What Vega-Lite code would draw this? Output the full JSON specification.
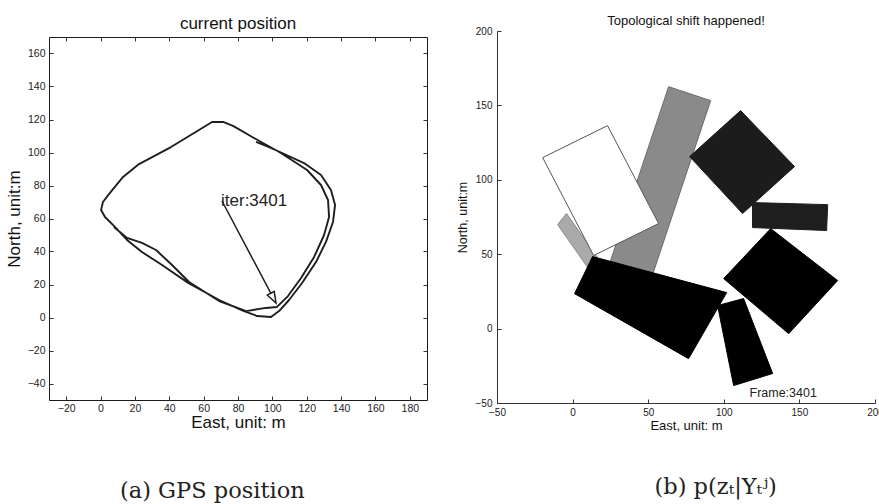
{
  "$schema": "https://vega.github.io/schema/vega-lite/v6.json",
  "background": "white",
  "padding": {"left": 4, "top": 12, "right": 0, "bottom": 0},
  "spacing": 28,
  "hconcat": [
    {
      "title": {"text": "(a) GPS position", "orient": "bottom", "anchor": "middle", "frame": "bounds", "font": "DejaVu Serif", "fontSize": 22.5, "fontWeight": "normal", "color": "#222", "offset": 49, "dx": -4},
      "spacing": 0,
      "vconcat": [
        {"width": 378, "height": 2, "data": {"values": []}, "mark": "point"},
        {
          "width": 378,
          "height": 363,
          "title": {"text": "current position", "fontSize": 17, "offset": 4},
          "view": {"stroke": "#1a1a1a", "strokeWidth": 1},
          "resolve": {"axis": {"x": "independent", "y": "independent"}},
          "layer": [
            {
              "data": {"values": [
                {"i": 1, "east": 90.5, "north": 106.4}, {"i": 2, "east": 98.1, "north": 103.3},
                {"i": 3, "east": 105.7, "north": 99.7}, {"i": 4, "east": 118.4, "north": 93.6},
                {"i": 5, "east": 128.3, "north": 86.4}, {"i": 6, "east": 134.1, "north": 77.3},
                {"i": 7, "east": 136.5, "north": 68.2}, {"i": 8, "east": 135.3, "north": 57.9},
                {"i": 9, "east": 131.2, "north": 45.8}, {"i": 10, "east": 125.4, "north": 33.6},
                {"i": 11, "east": 117.3, "north": 20.9}, {"i": 12, "east": 109.7, "north": 10.6},
                {"i": 13, "east": 103.9, "north": 3.9}, {"i": 14, "east": 99.2, "north": 0.3},
                {"i": 15, "east": 91.1, "north": 0.9}, {"i": 16, "east": 83.5, "north": 3.9},
                {"i": 17, "east": 69.0, "north": 10.6}, {"i": 18, "east": 51.0, "north": 21.0},
                {"i": 19, "east": 35.8, "north": 31.8}, {"i": 20, "east": 24.1, "north": 39.7},
                {"i": 21, "east": 15.4, "north": 47.0}, {"i": 22, "east": 7.8, "north": 55.5},
                {"i": 23, "east": 2.6, "north": 60.9}, {"i": 24, "east": 0.3, "north": 65.2},
                {"i": 25, "east": 1.4, "north": 70.0}, {"i": 26, "east": 4.9, "north": 74.8},
                {"i": 27, "east": 13.1, "north": 85.2}, {"i": 28, "east": 22.4, "north": 93.0},
                {"i": 29, "east": 41.0, "north": 103.3}, {"i": 30, "east": 57.3, "north": 113.6},
                {"i": 31, "east": 64.9, "north": 118.5}, {"i": 32, "east": 71.3, "north": 118.5},
                {"i": 33, "east": 77.1, "north": 116.1}, {"i": 34, "east": 89.3, "north": 108.8},
                {"i": 35, "east": 105.0, "north": 99.7}, {"i": 36, "east": 120.2, "north": 89.4},
                {"i": 37, "east": 128.3, "north": 80.3}, {"i": 38, "east": 132.4, "north": 71.2},
                {"i": 39, "east": 133.0, "north": 60.9}, {"i": 40, "east": 130.1, "north": 50.0},
                {"i": 41, "east": 124.3, "north": 36.7}, {"i": 42, "east": 116.7, "north": 23.9},
                {"i": 43, "east": 109.1, "north": 13.0}, {"i": 44, "east": 102.7, "north": 6.4},
                {"i": 45, "east": 96.3, "north": 5.8}, {"i": 46, "east": 84.7, "north": 3.9},
                {"i": 47, "east": 69.0, "north": 10.0}, {"i": 48, "east": 51.5, "north": 21.5},
                {"i": 49, "east": 41.6, "north": 31.8}, {"i": 50, "east": 32.3, "north": 40.9},
                {"i": 51, "east": 24.1, "north": 45.2}, {"i": 52, "east": 15.4, "north": 48.2},
                {"i": 53, "east": 7.8, "north": 54.8}
              ]},
              "mark": {"type": "line", "color": "#1e1e1e", "strokeWidth": 1.9, "strokeJoin": "round"},
              "encoding": {
                "x": {"field": "east", "type": "quantitative",
                  "scale": {"domain": [-30, 190], "nice": false, "zero": false},
                  "axis": {"orient": "bottom", "values": [-20, 0, 20, 40, 60, 80, 100, 120, 140, 160, 180],
                    "title": "East, unit: m", "titleFontSize": 17, "labelFontSize": 10.5,
                    "tickSize": -4, "labelPadding": 7, "titlePadding": 1, "domain": false}},
                "y": {"field": "north", "type": "quantitative",
                  "scale": {"domain": [-50, 170], "nice": false, "zero": false},
                  "axis": {"orient": "left", "values": [-40, -20, 0, 20, 40, 60, 80, 100, 120, 140, 160],
                    "title": "North, unit:m", "titleFontSize": 17, "labelFontSize": 10.5,
                    "tickSize": -4, "labelPadding": 8, "titlePadding": 4, "domain": false}},
                "order": {"field": "i", "type": "quantitative"}
              }
            },
            {
              "data": {"values": [
                {"i": 1, "east": 70.7, "north": 70.6}, {"i": 2, "east": 99.1, "north": 14.7},
                {"i": 3, "east": 97.1, "north": 13.5}, {"i": 4, "east": 102.1, "north": 8.8},
                {"i": 5, "east": 101.1, "north": 15.8}, {"i": 6, "east": 99.1, "north": 14.7}
              ]},
              "mark": {"type": "line", "color": "#1e1e1e", "strokeWidth": 1.5, "strokeJoin": "miter"},
              "encoding": {
                "x": {"field": "east", "type": "quantitative",
                  "axis": {"orient": "top", "values": [-20, 0, 20, 40, 60, 80, 100, 120, 140, 160, 180],
                    "labels": false, "title": null, "tickSize": -4, "domain": false}},
                "y": {"field": "north", "type": "quantitative",
                  "axis": {"orient": "right", "values": [-40, -20, 0, 20, 40, 60, 80, 100, 120, 140, 160],
                    "labels": false, "title": null, "tickSize": -4, "domain": false}},
                "order": {"field": "i", "type": "quantitative"}
              }
            },
            {
              "data": {"values": [{"east": 70.7, "north": 70.6, "label": "iter:3401"}]},
              "mark": {"type": "text", "align": "left", "baseline": "middle", "fontSize": 17, "font": "Liberation Sans", "color": "#222", "dx": -1},
              "encoding": {
                "x": {"field": "east", "type": "quantitative", "axis": null},
                "y": {"field": "north", "type": "quantitative", "axis": null},
                "text": {"field": "label"}
              }
            }
          ]
        }
      ]
    },
    {
      "title": {"text": "(b) p(zₜ|Yₜʲ)", "orient": "bottom", "anchor": "middle", "frame": "bounds", "font": "DejaVu Serif", "fontSize": 22.5, "fontWeight": "normal", "color": "#222", "offset": 44, "dx": 46},
      "spacing": 0,
      "vconcat": [
        {"width": 378, "height": 3, "data": {"values": []}, "mark": "point"},
        {
          "width": 378,
          "height": 372,
          "title": {"text": "Topological shift happened!", "fontSize": 13, "offset": -2},
          "layer": [
            {
              "data": {"values": [
                {"shape": "1 pale", "v": 0, "east": -9.9, "north": 69.9}, {"shape": "1 pale", "v": 1, "east": -4.0, "north": 77.3},
                {"shape": "1 pale", "v": 2, "east": 22.5, "north": 39.0}, {"shape": "1 pale", "v": 3, "east": 16.5, "north": 31.6},
                {"shape": "1 pale", "v": 4, "east": -9.9, "north": 69.9},
                {"shape": "2 grey", "v": 0, "east": 63.5, "north": 162.6}, {"shape": "2 grey", "v": 1, "east": 91.3, "north": 153.2},
                {"shape": "2 grey", "v": 2, "east": 47.6, "north": 20.1}, {"shape": "2 grey", "v": 3, "east": 19.8, "north": 29.5},
                {"shape": "2 grey", "v": 4, "east": 63.5, "north": 162.6},
                {"shape": "3 white", "v": 0, "east": -19.8, "north": 114.9}, {"shape": "3 white", "v": 1, "east": 23.1, "north": 136.4},
                {"shape": "3 white", "v": 2, "east": 56.9, "north": 70.6}, {"shape": "3 white", "v": 3, "east": 13.9, "north": 49.1},
                {"shape": "3 white", "v": 4, "east": -19.8, "north": 114.9},
                {"shape": "4 dark", "v": 0, "east": 111.1, "north": 146.5}, {"shape": "4 dark", "v": 1, "east": 146.8, "north": 108.9},
                {"shape": "4 dark", "v": 2, "east": 112.4, "north": 77.3}, {"shape": "4 dark", "v": 3, "east": 77.4, "north": 115.6},
                {"shape": "4 dark", "v": 4, "east": 111.1, "north": 146.5},
                {"shape": "5 dark bar", "v": 0, "east": 119.0, "north": 84.7}, {"shape": "5 dark bar", "v": 1, "east": 168.7, "north": 83.3},
                {"shape": "5 dark bar", "v": 2, "east": 168.0, "north": 65.9}, {"shape": "5 dark bar", "v": 3, "east": 119.0, "north": 67.9},
                {"shape": "5 dark bar", "v": 4, "east": 119.0, "north": 84.7},
                {"shape": "6 black", "v": 0, "east": 131.0, "north": 67.2}, {"shape": "6 black", "v": 1, "east": 175.3, "north": 32.3},
                {"shape": "6 black", "v": 2, "east": 142.9, "north": -3.4}, {"shape": "6 black", "v": 3, "east": 99.9, "north": 33.6},
                {"shape": "6 black", "v": 4, "east": 131.0, "north": 67.2},
                {"shape": "7 black", "v": 0, "east": 13.2, "north": 48.4}, {"shape": "7 black", "v": 1, "east": 101.9, "north": 24.2},
                {"shape": "7 black", "v": 2, "east": 76.7, "north": -20.2}, {"shape": "7 black", "v": 3, "east": 1.3, "north": 23.5},
                {"shape": "7 black", "v": 4, "east": 13.2, "north": 48.4},
                {"shape": "8 black", "v": 0, "east": 95.9, "north": 15.5}, {"shape": "8 black", "v": 1, "east": 113.1, "north": 20.2},
                {"shape": "8 black", "v": 2, "east": 132.3, "north": -30.2}, {"shape": "8 black", "v": 3, "east": 106.5, "north": -38.3},
                {"shape": "8 black", "v": 4, "east": 95.9, "north": 15.5}
              ]},
              "mark": {"type": "line", "strokeWidth": 1, "strokeJoin": "miter"},
              "encoding": {
                "x": {"field": "east", "type": "quantitative",
                  "scale": {"domain": [-50, 200], "nice": false, "zero": false},
                  "axis": {"values": [-50, 0, 50, 100, 150, 200], "title": "East, unit: m",
                    "titleFontSize": 13, "labelFontSize": 10, "tickSize": -4, "labelPadding": 8, "titlePadding": 2}},
                "y": {"field": "north", "type": "quantitative",
                  "scale": {"domain": [-50, 200], "nice": false, "zero": false},
                  "axis": {"values": [-50, 0, 50, 100, 150, 200], "title": "North, unit:m",
                    "titleFontSize": 12.5, "labelFontSize": 10, "tickSize": -4, "labelPadding": 9, "titlePadding": 6}},
                "detail": {"field": "shape"},
                "order": {"field": "v", "type": "quantitative"},
                "fill": {"field": "shape", "type": "nominal", "legend": null,
                  "scale": {"domain": ["1 pale", "2 grey", "3 white", "4 dark", "5 dark bar", "6 black", "7 black", "8 black"],
                    "range": ["#aaaaaa", "#8a8a8a", "#ffffff", "#1c1c1c", "#1e1e1e", "#000000", "#000000", "#000000"]}},
                "stroke": {"field": "shape", "type": "nominal", "legend": null,
                  "scale": {"domain": ["1 pale", "2 grey", "3 white", "4 dark", "5 dark bar", "6 black", "7 black", "8 black"],
                    "range": ["#888888", "#6a6a6a", "#555555", "#1c1c1c", "#1e1e1e", "#000000", "#000000", "#000000"]}}
              }
            },
            {
              "data": {"values": [{"east": 117, "north": -43, "label": "Frame:3401"}]},
              "mark": {"type": "text", "align": "left", "baseline": "middle", "fontSize": 12.5, "font": "Liberation Sans", "color": "#222"},
              "encoding": {
                "x": {"field": "east", "type": "quantitative"},
                "y": {"field": "north", "type": "quantitative"},
                "text": {"field": "label"}
              }
            }
          ]
        }
      ]
    }
  ],
  "config": {
    "view": {"stroke": null},
    "axis": {"grid": false, "labelFlush": false, "labelOverlap": false, "labelFont": "Liberation Sans", "titleFont": "Liberation Sans",
      "titleFontWeight": "normal", "labelColor": "#222", "titleColor": "#111", "domainColor": "#333", "tickColor": "#333"},
    "title": {"font": "Liberation Sans", "fontWeight": "normal", "color": "#111"}
  }
}
